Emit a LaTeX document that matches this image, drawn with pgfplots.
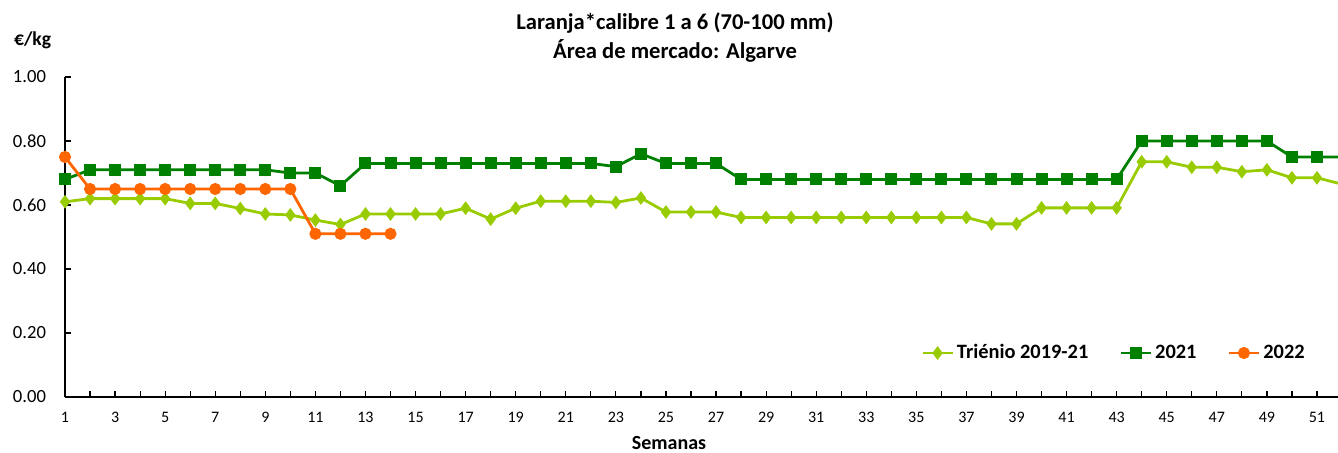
\documentclass[border=0pt]{standalone}
\usepackage{pgfplots}
\pgfplotsset{compat=1.18}
\usepackage{fontspec}
\setmainfont{Carlito}
\definecolor{trien}{RGB}{153,204,0}
\definecolor{yA}{RGB}{0,128,0}
\definecolor{yB}{RGB}{255,102,0}
\begin{document}
\begin{tikzpicture}
\useasboundingbox (-32.5pt,-27.5pt) rectangle (636.5pt,198.5pt);
\begin{axis}[
  at={(0pt,0pt)}, anchor=south west,
  scale only axis, width=636.5pt, height=160pt,
  xmin=1, xmax=51.84, ymin=0, ymax=1,
  axis x line*=bottom, axis y line*=left,
  axis line style={line width=0.7pt, black, -},
  xtick={1,3,...,51}, minor xtick={2,4,...,52},
  ytick={0,0.2,0.4,0.6,0.8,1},
  tick align=inside, major tick length=3pt, minor tick length=3pt,
  tick style={black, line width=0.6pt},
  /pgf/number format/assume math mode=true,
  yticklabel style={/pgf/number format/fixed,/pgf/number format/fixed zerofill,/pgf/number format/precision=2, font=\fontsize{9.3}{11}\selectfont, xshift=-6pt},
  xticklabel style={font=\fontsize{8}{9}\selectfont, yshift=-4pt},
  legend style={at={(0.9765,0.1375)}, anchor=east, draw=none, fill=none, legend columns=3,
    font=\bfseries\fontsize{10.2}{12}\selectfont,
    /tikz/every even column/.append style={column sep=14pt},
    inner sep=0pt, nodes={inner sep=1.5pt}},
  legend image code/.code={\draw[mark repeat=2,mark phase=2,#1] plot coordinates {(0pt,0pt)(7.5pt,0pt)(15pt,0pt)};},
  clip=true,
]
\addplot[color=trien, line width=1.4pt, mark=diamond*, mark size=2.3pt] coordinates {
(1,0.61)(2,0.62)(3,0.62)(4,0.62)(5,0.62)(6,0.605)(7,0.605)(8,0.589)(9,0.572)(10,0.569)
(11,0.553)(12,0.539)(13,0.572)(14,0.572)(15,0.572)(16,0.572)(17,0.590)(18,0.556)(19,0.590)(20,0.612)
(21,0.612)(22,0.612)(23,0.608)(24,0.622)(25,0.578)(26,0.578)(27,0.578)(28,0.561)(29,0.561)(30,0.561)
(31,0.561)(32,0.561)(33,0.561)(34,0.561)(35,0.561)(36,0.561)(37,0.561)(38,0.541)(39,0.541)(40,0.591)
(41,0.591)(42,0.591)(43,0.591)(44,0.735)(45,0.735)(46,0.718)(47,0.718)(48,0.704)(49,0.710)(50,0.685)
(51,0.685)(52,0.665)};
\addlegendentry{Triénio 2019-21}
\addplot[color=yA, line width=1.4pt, mark=square*, mark size=2.3pt] coordinates {
(1,0.68)(2,0.71)(3,0.71)(4,0.71)(5,0.71)(6,0.71)(7,0.71)(8,0.71)(9,0.71)(10,0.70)
(11,0.70)(12,0.66)(13,0.73)(14,0.73)(15,0.73)(16,0.73)(17,0.73)(18,0.73)(19,0.73)(20,0.73)
(21,0.73)(22,0.73)(23,0.72)(24,0.76)(25,0.73)(26,0.73)(27,0.73)(28,0.68)(29,0.68)(30,0.68)
(31,0.68)(32,0.68)(33,0.68)(34,0.68)(35,0.68)(36,0.68)(37,0.68)(38,0.68)(39,0.68)(40,0.68)
(41,0.68)(42,0.68)(43,0.68)(44,0.80)(45,0.80)(46,0.80)(47,0.80)(48,0.80)(49,0.80)(50,0.75)
(51,0.75)(52,0.75)};
\addlegendentry{2021}
\addplot[color=yB, line width=1.4pt, mark=*, mark size=2.3pt] coordinates {
(1,0.75)(2,0.65)(3,0.65)(4,0.65)(5,0.65)(6,0.65)(7,0.65)(8,0.65)(9,0.65)(10,0.65)
(11,0.51)(12,0.51)(13,0.51)(14,0.51)};
\addlegendentry{2022}
\end{axis}
\node[font=\bfseries\fontsize{11.3}{14.5}\selectfont, align=center] at (305pt,179.5pt) {Laranja*calibre 1 a 6 (70-100 mm)\\Área de mercado: Algarve};
\node[font=\bfseries\fontsize{9.8}{11}\selectfont, anchor=west] at (-29pt,178.5pt) {€/kg};
\node[font=\bfseries\fontsize{10}{12}\selectfont, inner sep=1pt] at (302pt,-23pt) {Semanas};
\end{tikzpicture}
\end{document}
